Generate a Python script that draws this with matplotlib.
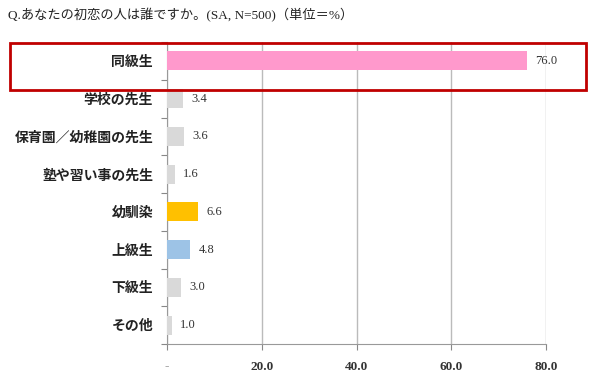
import matplotlib
matplotlib.use("Agg")
import matplotlib.pyplot as plt
from matplotlib.patches import Rectangle

categories = ["同級生", "学校の先生", "保育園／幼稚園の先生", "塾や習い事の先生", "幼馴染", "上級生", "下級生", "その他"]
values = [76.0, 3.4, 3.6, 1.6, 6.6, 4.8, 3.0, 1.0]
colors = ["#FF99CC", "#D9D9D9", "#D9D9D9", "#D9D9D9", "#FFC000", "#9DC3E6", "#D9D9D9", "#D9D9D9"]
xticks = [0, 20, 40, 60, 80]
xticklabels = ["-", "20.0", "40.0", "60.0", "80.0"]
title = "Q.あなたの初恋の人は誰ですか。(SA, N=500)（単位＝%）"

fam = ["Liberation Serif", "Noto Sans CJK JP"]
plt.rcParams['font.family'] = fam

fig = plt.figure(figsize=(6, 3.78), dpi=100)
ax = fig.add_axes([167/600, 1-344/378, (546-167)/600, (344-42)/378])

n = len(categories)
ypos = list(range(n))
ax.barh(ypos, values, height=0.5, color=colors, zorder=3)
ax.set_ylim(n-0.5, -0.5)
ax.set_xlim(0, 80)
for y, v in zip(ypos, values):
    ax.text(v + 1.8, y, f"{v:.1f}", va="center", ha="left", fontsize=9, color="#333333")

ax.set_xticks(xticks)
ax.set_xticklabels(xticklabels, fontsize=9.5, color="#333333", fontweight="bold")
ax.get_xticklabels()[0].set_color("#AAAAAA")
ax.get_xticklabels()[0].set_fontweight("normal")
ax.set_yticks([i - 0.5 for i in range(n+1)])
ax.set_yticklabels([])
ax.set_yticks(ypos, minor=True)
ax.set_yticklabels(categories, minor=True, fontsize=10, color="#222222", fontweight="bold")
ax.tick_params(axis="y", which="minor", length=0, pad=10)
ax.tick_params(axis="y", which="major", length=4, color="#888888")
ax.tick_params(axis="x", length=4, color="#888888", pad=8)
ax.grid(axis="x", color="#BBBBBB", lw=1, zorder=0)
for s in ["top", "right"]:
    ax.spines[s].set_visible(False)
ax.spines["left"].set_color("#999999")
ax.spines["bottom"].set_color("#999999")

fig.text(8/600, 1-15/378, title, fontsize=9.5, va="center", ha="left", color="#222222")
fig.patches.append(Rectangle((10/600, 1-90/378), 576/600, 47/378, transform=fig.transFigure,
                             fill=False, edgecolor="#C00000", lw=2))

fig.savefig("out.png", dpi=100)
